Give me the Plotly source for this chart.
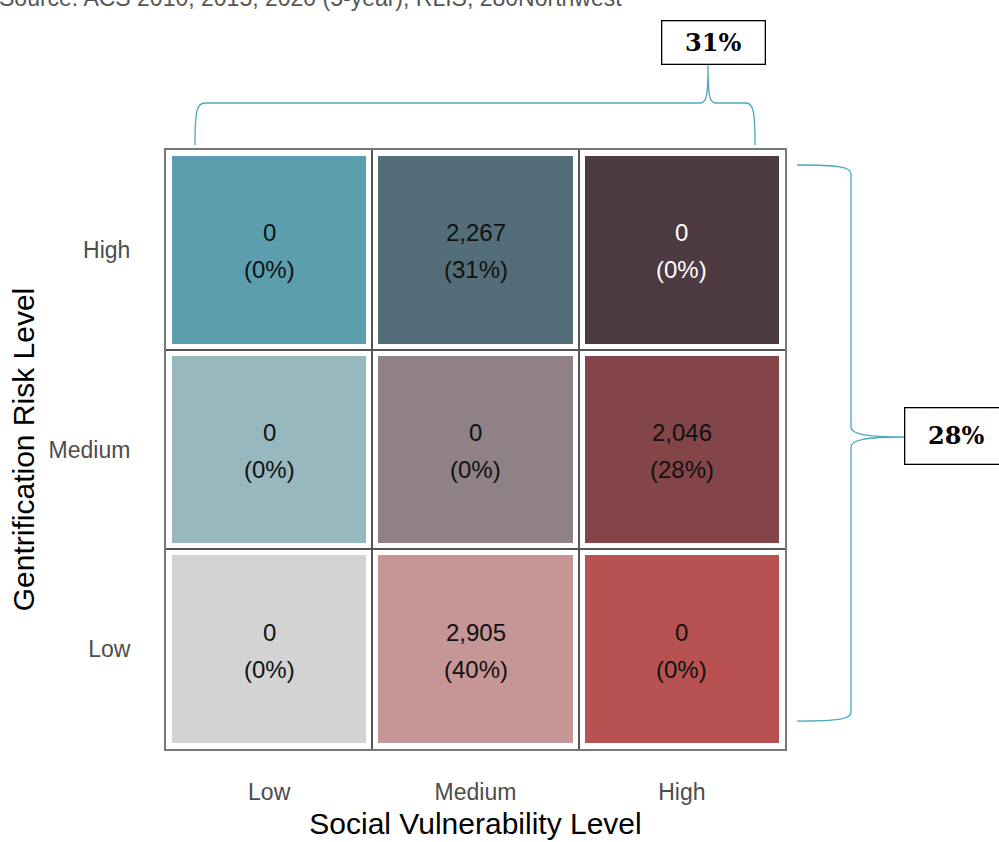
import plotly.graph_objects as go

# data
levels = ['Low', 'Medium', 'High']
vuln_idx = [0, 1, 2]          # social vulnerability (x)
risk_idx = [0, 1, 2]          # gentrification risk (y), Low at bottom

# counts[row=risk][col=vulnerability]
counts = [
    [0, 2905, 0],     # Low risk
    [0, 0, 2046],     # Medium risk
    [0, 2267, 0],     # High risk
]

tile_colors = [
    ['#d3d3d3', '#c69595', '#b85252'],
    ['#98b8bf', '#8f8187', '#834547'],
    ['#5b9eae', '#546e79', '#4e3b42'],
]

label_colors = [
    ['#111111', '#111111', '#111111'],
    ['#111111', '#111111', '#111111'],
    ['#111111', '#111111', 'white'],
]

source_text = 'Source: ACS 2010, 2015, 2020 (5-year), RLIS, 280Northwest'

total = sum(sum(r) for r in counts)

W, H = 999, 842
L, R, T, B = 166, 214, 150, 93


def px(x, y):
    # pixel -> paper coords
    return (x - L) / (W - L - R), (H - B - y) / (H - T - B)


def path(cmds):
    out = []
    for c in cmds:
        if isinstance(c, str):
            out.append(c)
        else:
            xx, yy = px(*c)
            out.append(f'{xx:.4f},{yy:.4f}')
    return ' '.join(out)


# discrete colorscale via class index
flat = [c for row in tile_colors for c in row]
cscale = [[i / (len(flat) - 1), c] for i, c in enumerate(flat)]
z = [[r * 3 + c for c in range(3)] for r in range(3)]

fig = go.Figure()

fig.add_trace(go.Heatmap(
    x=vuln_idx, y=risk_idx, z=z,
    colorscale=cscale, zmin=0, zmax=len(flat) - 1,
    showscale=False, xgap=12, ygap=12, hoverinfo='skip',
))

# cell labels: count above, share below
for r in risk_idx:
    for c in vuln_idx:
        f = dict(size=24, color=label_colors[r][c], family='Liberation Sans, Arial')
        fig.add_annotation(x=c, y=r, text=f'{counts[r][c]:,}', showarrow=False,
                           yshift=17, font=f)
        fig.add_annotation(x=c, y=r, text=f'({counts[r][c] / total:.0%})', showarrow=False,
                           yshift=-20, font=f)

brace_col = '#4aa8bd'

# top brace
fig.add_shape(type='path', xref='paper', yref='paper',
              line=dict(color=brace_col, width=1.3),
              path=path(['M', (195, 145), 'C', (195, 110), (197, 103), (205, 103),
                         'L', (700, 103), 'C', (706, 103), (708, 98), (708, 65),
                         'C', (708, 98), (710, 103), (716, 103),
                         'L', (746, 103), 'C', (753, 103), (755, 110), (755, 145)]))
# right brace
fig.add_shape(type='path', xref='paper', yref='paper',
              line=dict(color=brace_col, width=1.3),
              path=path(['M', (797, 165), 'C', (840, 165), (851, 167), (851, 174),
                         'L', (851, 427), 'C', (851, 434), (865, 437), (905, 437),
                         'C', (865, 437), (851, 440), (851, 447),
                         'L', (851, 712), 'C', (851, 719), (840, 721), (797, 721)]))

hi_med = counts[2][1] / total
med_hi = counts[1][2] / total

bx, by = px(713, 42)
fig.add_annotation(x=bx, y=by, xref='paper', yref='paper', text=f'<b>{hi_med:.0%}</b>',
                   xanchor='center', yanchor='middle',
                   showarrow=False, bgcolor='white', bordercolor='black', borderwidth=1.3,
                   width=100, height=40, font=dict(size=24, family='DejaVu Serif', color='black'))
bx, by = px(956, 436)
fig.add_annotation(x=bx, y=by, xref='paper', yref='paper', text=f'<b>{med_hi:.0%}</b>',
                   xanchor='center', yanchor='middle',
                   showarrow=False, bgcolor='white', bordercolor='black', borderwidth=1.3,
                   width=100, height=53, font=dict(size=24, family='DejaVu Serif', color='black'))

sx, sy = px(-3, -2)
fig.add_annotation(x=sx, y=sy, xref='paper', yref='paper', text=source_text,
                   showarrow=False, xanchor='left', yanchor='middle',
                   font=dict(size=23, family='Liberation Sans, Arial', color='#555555'))

fig.update_layout(
    width=W, height=H,
    margin=dict(l=L, r=R, t=T, b=B),
    plot_bgcolor='white', paper_bgcolor='white',
    showlegend=False,
    font=dict(family='Liberation Sans, Arial'),
    xaxis=dict(
        range=[-0.5, 2.5], tickvals=vuln_idx, ticktext=levels,
        showgrid=False, zeroline=False, ticks='', ticklabelstandoff=21,
        tickfont=dict(size=23, color='#4d4d4d'),
        showline=True, mirror=True, linecolor='#777777', linewidth=2,
        minor=dict(tickvals=[0.5, 1.5], showgrid=True, gridcolor='#555555', gridwidth=1.5, ticks=''),
        title=dict(text='Social Vulnerability Level', font=dict(size=30, color='black'), standoff=9),
        automargin=False, fixedrange=True,
    ),
    yaxis=dict(
        range=[-0.5, 2.5], tickvals=risk_idx, ticktext=levels,
        showgrid=False, zeroline=False, ticks='', ticklabelstandoff=29,
        tickfont=dict(size=23, color='#4d4d4d'),
        showline=True, mirror=True, linecolor='#777777', linewidth=2,
        minor=dict(tickvals=[0.5, 1.5], showgrid=True, gridcolor='#555555', gridwidth=1.5, ticks=''),
        title=dict(text='Gentrification Risk Level', font=dict(size=30, color='black'), standoff=5),
        automargin=False, fixedrange=True,
    ),
)

fig.write_html('out.html', config={'displayModeBar': False},
               post_script="document.body.style.margin='0px';")
